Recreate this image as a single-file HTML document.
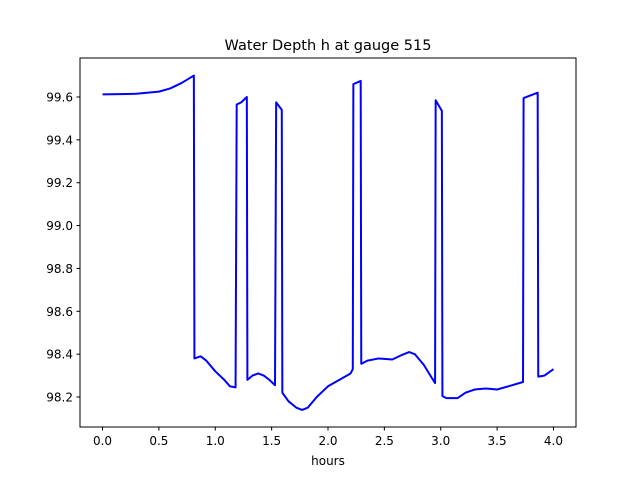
<!DOCTYPE html>
<html><head><meta charset="utf-8"><style>body{margin:0;background:#fff}svg{font-family:"DejaVu Sans","Liberation Sans",sans-serif}</style></head>
<body>
<svg id="chart" width="640" height="480" xmlns="http://www.w3.org/2000/svg">
<rect width="640" height="480" fill="#fff"/>
<text x="328" y="50" text-anchor="middle" font-size="14.5">Water Depth h at gauge 515</text>
<g id="plot"></g>
<rect x="80" y="58" width="496" height="369" fill="none" stroke="#000" stroke-width="1"/>
<text x="328" y="465" text-anchor="middle" font-size="12">hours</text>
</svg>
<script>
const xTicks=[0,0.5,1,1.5,2,2.5,3,3.5,4];
const yTicks=[98.2,98.4,98.6,98.8,99.0,99.2,99.4,99.6];
const hours=[0,0.3,0.5,0.6,0.7,0.81,0.815,0.87,0.92,1.0,1.08,1.13,1.18,1.19,1.23,1.28,1.285,1.33,1.38,1.43,1.48,1.53,1.54,1.59,1.595,1.65,1.72,1.77,1.82,1.9,2.0,2.1,2.2,2.22,2.225,2.29,2.295,2.35,2.45,2.57,2.65,2.72,2.77,2.85,2.92,2.95,2.955,3.01,3.015,3.05,3.15,3.22,3.3,3.4,3.5,3.6,3.73,3.735,3.86,3.865,3.92,4.0];
const depth=[99.612,99.615,99.625,99.64,99.665,99.70,98.38,98.39,98.37,98.32,98.28,98.25,98.245,99.565,99.575,99.60,98.28,98.30,98.31,98.30,98.28,98.255,99.575,99.54,98.22,98.18,98.15,98.14,98.15,98.20,98.25,98.28,98.31,98.33,99.66,99.675,98.355,98.37,98.38,98.375,98.395,98.41,98.40,98.35,98.29,98.265,99.585,99.535,98.205,98.195,98.195,98.22,98.235,98.24,98.235,98.25,98.27,99.595,99.62,98.295,98.30,98.33];
const X=v=>80+(v+0.2)/4.4*496;
const Y=v=>97+(99.6-v)*214.3;
const g=document.getElementById('plot');
const NS='http://www.w3.org/2000/svg';
function mk(t,a){const e=document.createElementNS(NS,t);for(const k in a)e.setAttribute(k,a[k]);g.appendChild(e);return e;}
xTicks.forEach(v=>{
 const l=mk('line',{x1:X(v),x2:X(v),y1:427,y2:430.5,stroke:'#000'});
 
 
 const t=mk('text',{x:X(v),y:445,'text-anchor':'middle','font-size':'12'});t.textContent=v.toFixed(1);
 
 
});
yTicks.forEach(v=>{
 const l=mk('line',{x1:76.5,x2:80,y1:Y(v),y2:Y(v),stroke:'#000'});
 
 
 const t=mk('text',{x:73,y:Y(v)+4.5,'text-anchor':'end','font-size':'12'});t.textContent=v.toFixed(1);
 
 
});
const p=mk('polyline',{points:hours.map((h,i)=>X(h)+','+Y(depth[i])).join(' '),fill:'none',stroke:'#0000ff','stroke-width':'2','stroke-linejoin':'round'});


</script>
</body></html>
